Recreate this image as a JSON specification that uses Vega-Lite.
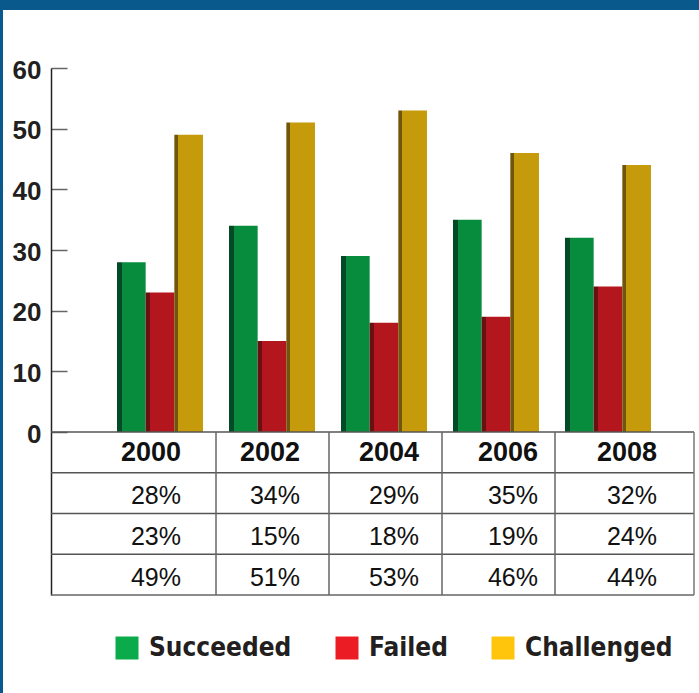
{
  "$schema": "https://vega.github.io/schema/vega-lite/v6.json",
  "width": 696,
  "height": 683,
  "autosize": {"type": "none"},
  "padding": {"top": 10, "left": 3, "right": 0, "bottom": 0},
  "background": "#0a598c",
  "config": {"view": {"fill": "white", "stroke": null}, "font": "Liberation Sans"},
  "datasets": {
    "projects": [
      {"year": "2000", "series": "Succeeded", "value": 28},
      {"year": "2000", "series": "Failed", "value": 23},
      {"year": "2000", "series": "Challenged", "value": 49},
      {"year": "2002", "series": "Succeeded", "value": 34},
      {"year": "2002", "series": "Failed", "value": 15},
      {"year": "2002", "series": "Challenged", "value": 51},
      {"year": "2004", "series": "Succeeded", "value": 29},
      {"year": "2004", "series": "Failed", "value": 18},
      {"year": "2004", "series": "Challenged", "value": 53},
      {"year": "2006", "series": "Succeeded", "value": 35},
      {"year": "2006", "series": "Failed", "value": 19},
      {"year": "2006", "series": "Challenged", "value": 46},
      {"year": "2008", "series": "Succeeded", "value": 32},
      {"year": "2008", "series": "Failed", "value": 24},
      {"year": "2008", "series": "Challenged", "value": 44}
    ],
    "rows": [{"row": "year"}, {"row": "Succeeded"}, {"row": "Failed"}, {"row": "Challenged"}]
  },
  "data": {"name": "projects"},
  "resolve": {"scale": {"x": "independent", "y": "independent"}},
  "layer": [
    {
      "mark": {"type": "bar", "opacity": 0},
      "encoding": {
        "x": {"field": "year", "type": "nominal", "axis": null, "scale": {"type": "band", "domain": ["2000", "2002", "2004", "2006", "2008"], "range": [114, 648], "paddingInner": 0.232, "paddingOuter": 0}},
        "xOffset": {"field": "series", "type": "nominal", "scale": {"domain": ["Succeeded", "Failed", "Challenged"], "paddingInner": 0, "paddingOuter": 0}},
        "y": {"field": "value", "type": "quantitative", "axis": null, "scale": {"type": "linear", "domain": [-26.868, 60], "range": [585, 58], "nice": false, "zero": false}},
        "color": {
          "field": "series", "type": "nominal",
          "scale": {"domain": ["Succeeded", "Failed", "Challenged"], "range": ["#0bab4b", "#ec1c24", "#fec50c"]},
          "legend": {
            "title": null, "orient": "none", "legendX": 111, "legendY": 625, "direction": "horizontal",
            "symbolType": "square", "symbolSize": 529, "symbolStrokeWidth": 0, "symbolOpacity": 1,
            "labelFont": "DejaVu Sans Condensed, DejaVu Sans, sans-serif", "labelFontWeight": "bold", "labelFontSize": 26,
            "labelColor": "#231f20", "labelOffset": 9, "columnPadding": 42, "labelLimit": 400, "padding": 0
          }
        }
      }
    },
    {
      "transform": [{"filter": "datum.series === 'Succeeded'"}],
      "mark": {"type": "bar", "fill": {"gradient": "linear", "x1": 0, "y1": 0, "x2": 1, "y2": 0, "stops": [{"offset": 0, "color": "#054a26"}, {"offset": 0.17, "color": "#054a26"}, {"offset": 0.17, "color": "#078b3c"}, {"offset": 1, "color": "#078b3c"}]}},
      "encoding": {
        "x": {"field": "year", "type": "nominal", "axis": null, "scale": {"type": "band", "domain": ["2000", "2002", "2004", "2006", "2008"], "range": [114, 648], "paddingInner": 0.232, "paddingOuter": 0}},
        "xOffset": {"field": "series", "type": "nominal", "scale": {"domain": ["Succeeded", "Failed", "Challenged"], "paddingInner": 0, "paddingOuter": 0}},
        "y": {
          "field": "value", "type": "quantitative",
          "scale": {"type": "linear", "domain": [-26.868, 60], "range": [585, 58], "nice": false, "zero": false},
          "axis": {
            "values": [0, 10, 20, 30, 40, 50, 60], "offset": -48, "title": null, "grid": false,
            "domainColor": "#222", "domainWidth": 1.5, "tickColor": "#666", "tickWidth": 1.5, "tickSize": -16,
            "labelPadding": 26, "labelFont": "Liberation Sans", "labelFontWeight": "bold", "labelFontSize": 26,
            "labelColor": "#231f20", "labelOffset": 2
          }
        }
      }
    },
    {
      "transform": [{"filter": "datum.series === 'Failed'"}],
      "mark": {"type": "bar", "fill": {"gradient": "linear", "x1": 0, "y1": 0, "x2": 1, "y2": 0, "stops": [{"offset": 0, "color": "#6a0f12"}, {"offset": 0.14, "color": "#6a0f12"}, {"offset": 0.14, "color": "#b4161d"}, {"offset": 1, "color": "#b4161d"}]}},
      "encoding": {
        "x": {"field": "year", "type": "nominal", "axis": null, "scale": {"type": "band", "domain": ["2000", "2002", "2004", "2006", "2008"], "range": [114, 648], "paddingInner": 0.232, "paddingOuter": 0}},
        "xOffset": {"field": "series", "type": "nominal", "scale": {"domain": ["Succeeded", "Failed", "Challenged"], "paddingInner": 0, "paddingOuter": 0}},
        "y": {"field": "value", "type": "quantitative", "axis": null, "scale": {"type": "linear", "domain": [-26.868, 60], "range": [585, 58], "nice": false, "zero": false}}
      }
    },
    {
      "transform": [{"filter": "datum.series === 'Challenged'"}],
      "mark": {"type": "bar", "fill": {"gradient": "linear", "x1": 0, "y1": 0, "x2": 1, "y2": 0, "stops": [{"offset": 0, "color": "#6f5609"}, {"offset": 0.14, "color": "#6f5609"}, {"offset": 0.14, "color": "#c59a0b"}, {"offset": 1, "color": "#c59a0b"}]}},
      "encoding": {
        "x": {"field": "year", "type": "nominal", "axis": null, "scale": {"type": "band", "domain": ["2000", "2002", "2004", "2006", "2008"], "range": [114, 648], "paddingInner": 0.232, "paddingOuter": 0}},
        "xOffset": {"field": "series", "type": "nominal", "scale": {"domain": ["Succeeded", "Failed", "Challenged"], "paddingInner": 0, "paddingOuter": 0}},
        "y": {"field": "value", "type": "quantitative", "axis": null, "scale": {"type": "linear", "domain": [-26.868, 60], "range": [585, 58], "nice": false, "zero": false}}
      }
    },
    {
      "data": {"name": "rows"},
      "mark": {"type": "rule", "color": "#555", "strokeWidth": 1.5},
      "encoding": {
        "y": {"field": "row", "type": "nominal", "bandPosition": 0, "axis": null, "scale": {"type": "band", "domain": ["year", "Succeeded", "Failed", "Challenged"], "range": [422, 585], "paddingInner": 0, "paddingOuter": 0}},
        "x": {"datum": "table", "type": "nominal", "bandPosition": 0, "axis": null, "scale": {"type": "band", "domain": ["table"], "range": [48, 691], "paddingInner": 0, "paddingOuter": 0}},
        "x2": {"datum": "table", "bandPosition": 1}
      }
    },
    {
      "data": {"name": "rows"},
      "transform": [{"filter": "datum.row === 'Challenged'"}],
      "mark": {"type": "rule", "color": "#666", "strokeWidth": 1.5},
      "encoding": {
        "y": {"field": "row", "type": "nominal", "bandPosition": 1, "axis": null, "scale": {"type": "band", "domain": ["year", "Succeeded", "Failed", "Challenged"], "range": [422, 585], "paddingInner": 0, "paddingOuter": 0}},
        "x": {"datum": "table", "type": "nominal", "bandPosition": 0, "axis": null, "scale": {"type": "band", "domain": ["table"], "range": [48, 691], "paddingInner": 0, "paddingOuter": 0}},
        "x2": {"datum": "table", "bandPosition": 1}
      }
    },
    {
      "transform": [{"filter": "datum.series === 'Succeeded' && datum.year !== '2008'"}],
      "mark": {"type": "rule", "color": "#666", "strokeWidth": 1.5},
      "encoding": {
        "x": {"field": "year", "type": "nominal", "bandPosition": 1, "axis": null, "scale": {"type": "band", "domain": ["2000", "2002", "2004", "2006", "2008"], "range": [100, 665], "paddingInner": 0, "paddingOuter": 0}},
        "y": {"datum": "year", "type": "nominal", "bandPosition": 0, "axis": null, "scale": {"type": "band", "domain": ["year", "Succeeded", "Failed", "Challenged"], "range": [422, 585], "paddingInner": 0, "paddingOuter": 0}},
        "y2": {"datum": "Challenged", "bandPosition": 1}
      }
    },
    {
      "data": {"name": "rows"},
      "transform": [{"filter": "datum.row === 'year'"}],
      "mark": {"type": "rule", "color": "#777", "strokeWidth": 1.5},
      "encoding": {
        "x": {"datum": "table", "type": "nominal", "bandPosition": 1, "axis": null, "scale": {"type": "band", "domain": ["table"], "range": [48, 691], "paddingInner": 0, "paddingOuter": 0}},
        "y": {"field": "row", "type": "nominal", "bandPosition": 0, "axis": null, "scale": {"type": "band", "domain": ["year", "Succeeded", "Failed", "Challenged"], "range": [422, 585], "paddingInner": 0, "paddingOuter": 0}},
        "y2": {"datum": "Challenged", "bandPosition": 1}
      }
    },
    {
      "transform": [{"filter": "datum.series === 'Succeeded'"}],
      "mark": {"type": "text", "align": "right", "baseline": "middle", "dy": 1, "font": "Liberation Sans", "fontWeight": "bold", "fontSize": 27, "color": "#111"},
      "encoding": {
        "x": {"field": "year", "type": "nominal", "bandPosition": 1, "axis": null, "scale": {"type": "band", "domain": ["2000", "2002", "2004", "2006", "2008"], "range": [59, 654], "paddingInner": 0, "paddingOuter": 0}},
        "y": {"datum": "year", "type": "nominal", "axis": null, "scale": {"type": "band", "domain": ["year", "Succeeded", "Failed", "Challenged"], "range": [422, 585], "paddingInner": 0, "paddingOuter": 0}},
        "text": {"field": "year", "type": "nominal"}
      }
    },
    {
      "mark": {"type": "text", "align": "right", "baseline": "middle", "dy": 3, "font": "Liberation Sans", "fontSize": 25, "color": "#111", "text": {"expr": "datum.value + '%'"}},
      "encoding": {
        "x": {"field": "year", "type": "nominal", "bandPosition": 1, "axis": null, "scale": {"type": "band", "domain": ["2000", "2002", "2004", "2006", "2008"], "range": [59, 654], "paddingInner": 0, "paddingOuter": 0}},
        "y": {"field": "series", "type": "nominal", "axis": null, "scale": {"type": "band", "domain": ["year", "Succeeded", "Failed", "Challenged"], "range": [422, 585], "paddingInner": 0, "paddingOuter": 0}}
      }
    }
  ]
}
